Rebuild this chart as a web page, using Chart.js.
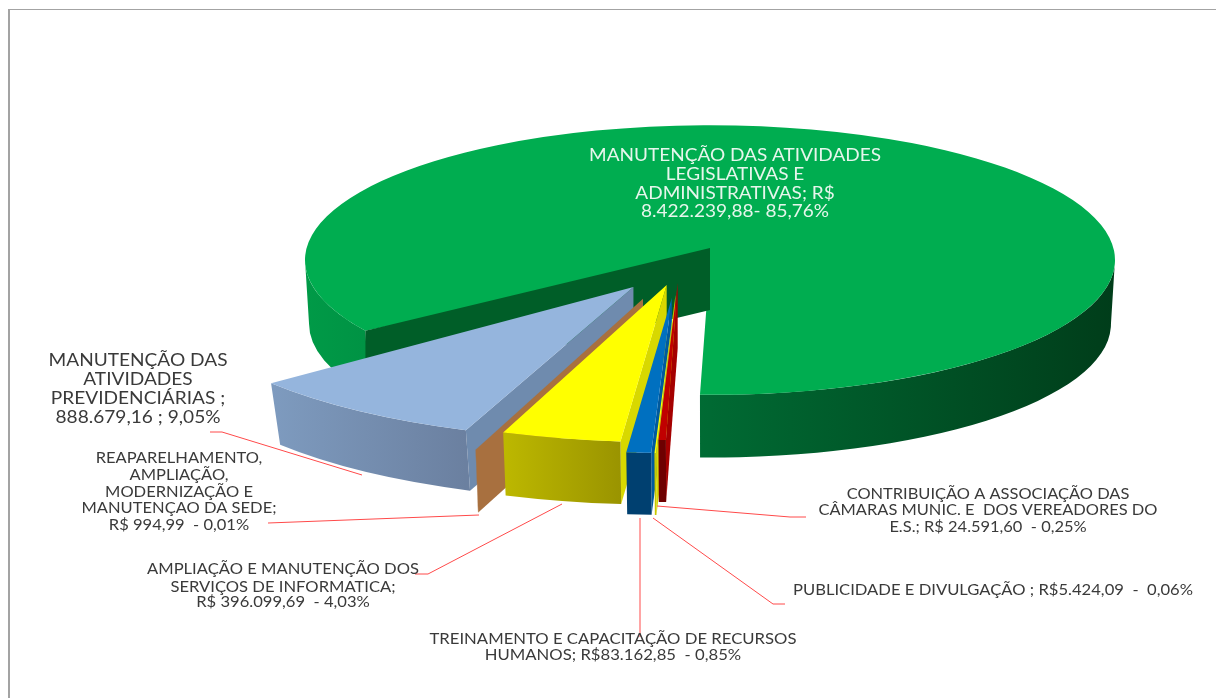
<!DOCTYPE html>
<html>
<head>
<meta charset="utf-8">
<style>html,body{margin:0;padding:0;background:#fff;overflow:hidden}canvas{display:block}</style>
<script src="https://cdn.jsdelivr.net/npm/chart.js@4/dist/chart.umd.min.js"></script>
</head>
<body>
<canvas id="c" width="1216" height="698"></canvas>
<script>
// ---- data ----
const categories = [
  "MANUTENÇÃO DAS ATIVIDADES LEGISLATIVAS E ADMINISTRATIVAS",
  "CONTRIBUIÇÃO A ASSOCIAÇÃO DAS CÂMARAS MUNIC. E DOS VEREADORES DO E.S.",
  "PUBLICIDADE E DIVULGAÇÃO",
  "TREINAMENTO E CAPACITAÇÃO DE RECURSOS HUMANOS",
  "AMPLIAÇÃO E MANUTENÇÃO DOS SERVIÇOS DE INFORMATICA",
  "REAPARELHAMENTO, AMPLIAÇÃO, MODERNIZAÇÃO E MANUTENÇAO DA SEDE",
  "MANUTENÇÃO DAS ATIVIDADES PREVIDENCIÁRIAS"
];
const values = [8422239.88, 24591.60, 5424.09, 83162.85, 396099.69, 994.99, 888679.16];

// ---- styles ----
const topColors   = ["#00ad50","#c00000","#ffff00","#0070c0","#ffff00","#a8703f","#95b5dd"];
const cutColors   = ["#005e28","#a50000","#d8d800","#005a9e","#d8d800","#a8703f","#6f8bae"];
const wallStops   = [
  ["#009a47","#006a33","#003d1a"],
  ["#6e0000","#6e0000"],
  ["#c8c800","#c8c800"],
  ["#004070","#004070"],
  ["#bdb800","#9a9400"],
  ["#a8703f","#a8703f"],
  ["#7e9bbf","#6b80a0"]
];
const explode     = [0, 70, 106, 115, 78, 125, 102];
const nudgeX      = [0, -30, -30, -30, -26, -24, -16];
const sliceRadius = [405, 476, 480, 470, 476, 487, 465];
const sliceDepth  = [64, 65, 65, 65, 65, 65, 64];
const baseShrink  = [0.99, 0.98, 0.98, 0.98, 0.985, 0.985, 0.975];
const drawOrder   = [0, 6, 5, 4, 3, 2, 1];
const DEG = Math.PI / 180;
const startNudge  = [5.6 * DEG, 0, 0, 0, 0, 0, 1 * DEG];
const endNudge    = [0, 0, 0, 0, 0, 0, -1.5 * DEG];
const SQUASH = 0.33, GREEN_SQUASH = 0.333, GREEN_APEX_LIFT = 12;

// ---- text annotations ----
const annotations = [
  {lines:["MANUTENÇÃO DAS ATIVIDADES","LEGISLATIVAS E","ADMINISTRATIVAS; R$","8.422.239,88- 85,76%"],cx:735,y:[161,180,199,217],size:18,width:292,color:"#e6f6ec"},
  {lines:["MANUTENÇÃO DAS","ATIVIDADES","PREVIDENCIÁRIAS ;","888.679,16 ; 9,05%"],cx:138,y:[366,385,404,423],size:18,width:179,color:"#3a3a3a"},
  {lines:["REAPARELHAMENTO,","AMPLIAÇÃO,","MODERNIZAÇÃO E","MANUTENÇAO DA SEDE;","R$ 994,99  - 0,01%"],cx:179,y:[463,480,497,513,530],size:15,width:195,color:"#3a3a3a"},
  {lines:["AMPLIAÇÃO E MANUTENÇÃO DOS","SERVIÇOS DE INFORMATICA;","R$ 396.099,69  - 4,03%"],cx:283,y:[574,592,607],size:15,width:272,color:"#3a3a3a"},
  {lines:["CONTRIBUIÇÃO A ASSOCIAÇÃO DAS","CÂMARAS MUNIC. E  DOS VEREADORES DO","E.S.; R$ 24.591,60  - 0,25%"],cx:988,y:[499,515,532],size:15,width:339,color:"#3a3a3a"},
  {lines:["PUBLICIDADE E DIVULGAÇÃO ; R$5.424,09  -  0,06%"],cx:993,y:[595],size:15,width:400,color:"#3a3a3a"},
  {lines:["TREINAMENTO E CAPACITAÇÃO DE RECURSOS","HUMANOS; R$83.162,85  - 0,85%"],cx:613,y:[644,660],size:15,width:367,color:"#3a3a3a"}
];
const leaders = [
  [[210,432],[222,432],[362,475]],
  [[268,523],[479,515]],
  [[415,574],[428,574],[562,504]],
  [[640,518],[640,637]],
  [[653,518],[773,604],[785,604]],
  [[657,506],[790,517],[806,517]]
];

function sideGradient(ctx, stops, x0, x1) {
  const g = ctx.createLinearGradient(x0, 0, x1, 0);
  stops.forEach((c, i) => g.addColorStop(i / (stops.length - 1), c));
  return g;
}
function drawOuterWall(ctx, ax, ay, r, s, d, k, a0, a1, fill) {
  const TAU = Math.PI * 2;
  ctx.fillStyle = fill;
  for (let m = -1; m < 3; m++) {
    const lo = Math.max(a0, TAU * m), hi = Math.min(a1, TAU * m + Math.PI);
    if (hi <= lo) continue;
    ctx.beginPath();
    ctx.ellipse(ax, ay, r, r * s, 0, lo, hi, false);
    ctx.ellipse(ax, ay + d, r * k, r * k * s, 0, hi, lo, true);
    ctx.closePath();
    ctx.fill();
  }
}
function drawCutWall(ctx, ax, ay, apexY, r, s, d, k, a, fill) {
  const c = Math.cos(a), n = Math.sin(a);
  ctx.fillStyle = fill;
  ctx.beginPath();
  ctx.moveTo(ax, apexY);
  ctx.lineTo(ax + r * c, ay + r * s * n);
  ctx.lineTo(ax + r * k * c, ay + d + r * k * s * n);
  ctx.lineTo(ax, apexY + d);
  ctx.closePath();
  ctx.fill();
}
function drawTop(ctx, el, ax, ay, r, s, startAngle, endAngle) {
  const saved = {o: el.options, r: el.outerRadius, a: el.startAngle, b: el.endAngle};
  el.options = {backgroundColor: saved.o.backgroundColor, borderColor: "transparent", borderWidth: 0,
    offset: 0, spacing: 0, borderRadius: 0, circular: true, borderAlign: "center"};
  el.outerRadius = r;
  el.startAngle = startAngle;
  el.endAngle = endAngle;
  ctx.save();
  ctx.translate(ax, ay);
  ctx.scale(1, s);
  ctx.translate(-el.x, -el.y);
  el.draw(ctx);
  ctx.restore();
  el.options = saved.o; el.outerRadius = saved.r; el.startAngle = saved.a; el.endAngle = saved.b;
}

const pie3d = {
  id: "pie3d",
  beforeDatasetDraw(chart) {
    const ctx = chart.ctx, arcs = chart.getDatasetMeta(0).data;
    ctx.save();
    drawOrder.forEach(i => {
      const el = arcs[i], r = sliceRadius[i], d = sliceDepth[i], k = baseShrink[i];
      const s = i === 0 ? GREEN_SQUASH : SQUASH;
      const mid = (el.startAngle + el.endAngle) / 2;
      const ax = el.x + explode[i] * Math.cos(mid) + nudgeX[i];
      const ay = el.y + explode[i] * s * Math.sin(mid);
      const start = el.startAngle + startNudge[i], end = el.endAngle + endNudge[i];
      const lefts = [ax + r * Math.cos(end), ax + r * Math.cos(start)];
      const x0 = i === 0 ? ax - r : Math.min(...lefts), x1 = i === 0 ? ax + r : Math.max(...lefts);
      const fill = sideGradient(ctx, wallStops[i], x0, x1);
      if (i === 0) {
        drawOuterWall(ctx, ax, ay, r, s, d, k, start, end, fill);
        drawTop(ctx, el, ax, ay, r, s, start, end);
        drawCutWall(ctx, ax, ay, ay - GREEN_APEX_LIFT, r, s, d - 2, 1, start, cutColors[i]);
      } else {
        drawCutWall(ctx, ax, ay, ay, r, s, d, k, start, cutColors[i]);
        drawOuterWall(ctx, ax, ay, r, s, d, k, start, end, fill);
        drawTop(ctx, el, ax, ay, r, s, start, end);
      }
    });
    ctx.restore();
    return false;
  },
  afterDraw(chart) {
    const ctx = chart.ctx;
    ctx.save();
    // frame
    ctx.fillStyle = "#a3a3a3";
    ctx.fillRect(8, 9, 1208, 1);
    ctx.fillRect(8, 9, 2, 689);
    // leaders
    ctx.strokeStyle = "#ff4a4a";
    ctx.lineWidth = 1;
    leaders.forEach(p => {
      ctx.beginPath();
      p.forEach((q, j) => j ? ctx.lineTo(q[0], q[1]) : ctx.moveTo(q[0], q[1]));
      ctx.stroke();
    });
    // labels
    ctx.textAlign = "center";
    ctx.textBaseline = "alphabetic";
    annotations.forEach(a => {
      ctx.font = a.size + 'px Lato, "Open Sans", sans-serif';
      ctx.fillStyle = a.color;
      const w = Math.max(...a.lines.map(t => ctx.measureText(t).width));
      const h = a.width / w;
      a.lines.forEach((t, j) => {
        ctx.save();
        ctx.translate(a.cx, a.y[j]);
        ctx.scale(h, 1);
        ctx.fillText(t, 0, 0);
        ctx.restore();
      });
    });
    ctx.restore();
  }
};

new Chart(document.getElementById("c"), {
  type: "pie",
  data: {
    labels: categories,
    datasets: [{
      data: values,
      backgroundColor: topColors,
      borderWidth: 0,
      radius: 405,
      offset: explode.map(v => v * 4)
    }]
  },
  options: {
    responsive: false,
    animation: false,
    rotation: 232.7,
    layout: {padding: {left: 204, bottom: 178}},
    plugins: {legend: {display: false}, tooltip: {enabled: false}, title: {display: false}}
  },
  plugins: [pie3d]
});
</script>
</body>
</html>
